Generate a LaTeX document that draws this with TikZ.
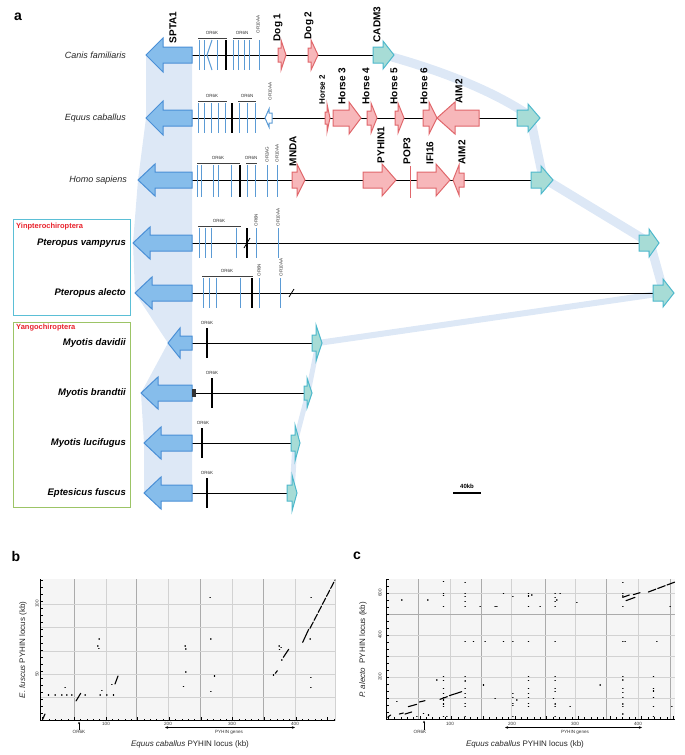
\documentclass[tikz,border=0pt]{standalone}
\usepackage{fontspec}
\setmainfont{Liberation Sans}
\usetikzlibrary{arrows.meta,calc}
\definecolor{sptaF}{HTML}{86BDEB}
\definecolor{sptaD}{HTML}{4A8FD6}
\definecolor{orB}{HTML}{5B9BD5}
\definecolor{shadeC}{HTML}{DDE8F6}
\definecolor{redF}{HTML}{F7B7BA}
\definecolor{redD}{HTML}{E0676B}
\definecolor{cadF}{HTML}{A7DCD6}
\definecolor{cadD}{HTML}{4DB8CC}
\definecolor{boxC}{HTML}{5BBFD6}
\definecolor{boxG}{HTML}{9CC466}
\definecolor{labR}{HTML}{E8212B}
\definecolor{gridL}{HTML}{D2D2D2}
\definecolor{gridD}{HTML}{ABABAB}
\definecolor{plotbg}{HTML}{F5F5F5}
\newcommand{\geneR}[8]{%
 \draw[#1] (#2,{#4-#5}) -- ({#3-#7},{#4-#5}) -- ({#3-#7},{#4-#6}) -- (#3,#4) -- ({#3-#7},{#4+#6}) -- ({#3-#7},{#4+#5}) -- (#2,{#4+#5}) -- cycle;
 \coordinate (#8) at (#3,#4);}
\newcommand{\geneL}[8]{%
 \draw[#1] (#3,{#4-#5}) -- ({#2+#7},{#4-#5}) -- ({#2+#7},{#4-#6}) -- (#2,#4) -- ({#2+#7},{#4+#6}) -- ({#2+#7},{#4+#5}) -- (#3,{#4+#5}) -- cycle;
 \coordinate (#8) at (#2,#4);}
\begin{document}
\begin{tikzpicture}[x=1pt,y=-1pt,
 spta/.style={fill=sptaF,draw=sptaD,line width=1pt},
 redg/.style={fill=redF,draw=redD,line width=1pt},
 cadg/.style={fill=cadF,draw=cadD,line width=1pt},
 ortk/.style={draw=orB,line width=1pt},
 blk/.style={draw=black,line width=1.3pt},
 chrom/.style={draw=black,line width=0.8pt},
 brk/.style={draw=black!75,line width=0.5pt},
 orlab/.style={font=\fontsize{4.5}{5}\selectfont,inner sep=0.5pt,text=black!80},
 orlabr/.style={orlab,rotate=90,anchor=west},
 genelab/.style={font=\bfseries\fontsize{10}{11}\selectfont,rotate=90,anchor=west,inner sep=0.5pt},
 splab/.style={font=\itshape\fontsize{9}{10}\selectfont,anchor=east,text=black!85,inner sep=0pt},
 batlab/.style={font=\bfseries\itshape\fontsize{9.5}{10}\selectfont,anchor=east,inner sep=0pt},
 grplab/.style={font=\bfseries\fontsize{7.5}{8}\selectfont,text=labR,anchor=west,inner sep=0pt},
 band/.style={draw=shadeC,line cap=round,line join=round},
 panel/.style={font=\bfseries\fontsize{14}{16}\selectfont,inner sep=0pt},
 dotp/.style={line width=1.3pt,line cap=round},
 segp/.style={line width=1.1pt,line cap=round},
 small/.style={font=\fontsize{4.6}{5.5}\selectfont,inner sep=0.3pt,text=black!80},
 axt/.style={font=\fontsize{8}{9}\selectfont,inner sep=0pt,text=black!85},
 gl/.style={draw=gridL,line width=0.5pt},
 gd/.style={draw=gridD,line width=0.6pt}
]
\useasboundingbox (0,0) rectangle (685,755);

% ---------- coordinates of CADM3 tips (for bands) ----------
\coordinate (bCf) at (392,57);
\coordinate (bEc) at (530,116);
\coordinate (bHs) at (543,178);
\coordinate (bPv) at (650,243);
\coordinate (bPa) at (664,293);
\coordinate (bMd) at (318,343);
\coordinate (bMb) at (308,393);
\coordinate (bMl) at (295,443);
\coordinate (bEf) at (292,493);

% bands
\draw[band,line width=9pt] (bCf) .. controls (445,72) and (495,92) .. (bEc) -- (bHs) -- (bPv) -- (bPa);
\draw[band,line width=6pt] (bPa) -- (bMd);
\draw[band,line width=5pt] (bMd) -- (bMb) -- (bMl) -- (bEf);

% SPTA1 shading
\fill[shadeC] (146,55) -- (146,118) -- (138,180) -- (133,243) -- (135,293) -- (168,343) -- (141,393) -- (144,443) -- (144,493) -- (192,493) -- (192,55) -- cycle;

% ---------- panel a ----------
\node[panel] (pa) at (18,17) {a};

% group boxes
\draw[boxC,line width=1pt] (13,219) rectangle (130,315);
\draw[boxG,line width=1pt] (13,322) rectangle (130,507);
\node[grplab] (gYin) at (16,227) {Yinpterochiroptera};
\node[grplab] (gYan) at (16,328) {Yangochiroptera};

% species labels
\node[splab] (sCf) at (126,55) {Canis familiaris};
\node[splab] (sEc) at (126,118) {Equus caballus};
\node[splab] (sHs) at (127,180) {Homo sapiens};
\node[batlab] (sPv) at (126,243) {Pteropus vampyrus};
\node[batlab] (sPa) at (126,293) {Pteropus alecto};
\node[batlab] (sMd) at (126,343) {Myotis davidii};
\node[batlab] (sMb) at (126,393) {Myotis brandtii};
\node[batlab] (sMl) at (126,443) {Myotis lucifugus};
\node[batlab] (sEf) at (126,493) {Eptesicus fuscus};

% chromosome lines
\draw[chrom] (192,55) -- (373,55);
\draw[chrom] (192,118) -- (517,118);
\draw[chrom] (192,180) -- (531,180);
\draw[chrom] (192,243) -- (639,243);
\draw[chrom] (192,293) -- (653,293);
\draw[chrom] (192,343) -- (312,343);
\draw[chrom] (192,393) -- (304,393);
\draw[chrom] (192,443) -- (291,443);
\draw[chrom] (192,493) -- (287,493);

% SPTA1 arrows
\geneL{spta}{146}{192}{55}{8}{17}{17}{sptaCf}
\geneL{spta}{146}{192}{118}{8}{17}{17}{sptaEc}
\geneL{spta}{138}{192}{180}{8}{16}{17}{sptaHs}
\geneL{spta}{133}{192}{243}{8}{16}{17}{sptaPv}
\geneL{spta}{135}{192}{293}{8}{16}{17}{sptaPa}
\geneL{spta}{168}{192}{343}{7}{15}{12}{sptaMd}
\geneL{spta}{141}{192}{393}{8}{16}{17}{sptaMb}
\geneL{spta}{144}{192}{443}{8}{16}{17}{sptaMl}
\geneL{spta}{144}{192}{493}{8}{16}{17}{sptaEf}
\node[genelab] (lSPTA) at (173,44) {SPTA1};

% CADM3 arrows
\geneR{cadg}{373}{394}{55}{8}{14}{11}{cadCf}
\geneR{cadg}{517}{540}{118}{8}{14}{12}{cadEc}
\geneR{cadg}{531}{553}{180}{8}{14}{12}{cadHs}
\geneR{cadg}{639}{659}{243}{8}{14}{10}{cadPv}
\geneR{cadg}{653}{674}{293}{8}{14}{11}{cadPa}
\geneR{cadg}{312}{322}{343}{8}{18}{6}{cadMd}
\geneR{cadg}{304}{312}{393}{7}{15}{5}{cadMb}
\geneR{cadg}{291}{300}{443}{8}{18}{5}{cadMl}
\geneR{cadg}{287}{297}{493}{8}{18}{5}{cadEf}
\node[genelab] (lCADM) at (377,43) {CADM3};

% ---- Canis row ----
\foreach \x in {199,204,217,233,238,244,249,259} \draw[ortk] (\x,40) -- (\x,70);
\draw[ortk] (212,40) -- (207,55) -- (212,70);
\draw[blk] (226,40) -- (226,70);
\draw[brk] (198,38) -- (227,38);
\draw[brk] (233,38) -- (252,38);
\node[orlab] (oCf1) at (212,33) {OR6K};
\node[orlab] (oCf2) at (242,33) {OR6N};
\node[orlabr] (oCf3) at (258,34) {OR10AA};
\geneR{redg}{278}{286}{55}{7}{15}{5}{dog1}
\geneR{redg}{308}{318}{55}{7}{15}{7}{dog2}
\node[genelab] (lDog1) at (278,42) {Dog 1};
\node[genelab] (lDog2) at (309,40) {Dog 2};

% ---- Equus row ----
\foreach \x in {198,204,211,218,225,239,247,255} \draw[ortk] (\x,103) -- (\x,133);
\draw[blk] (232,103) -- (232,133);
\geneL{fill=white,draw=orB,line width=1pt}{265}{272}{118}{5}{9}{4}{or10Ec}
\draw[brk] (198,101) -- (227,101);
\draw[brk] (238,101) -- (256,101);
\node[orlab] (oEc1) at (212,96) {OR6K};
\node[orlab] (oEc2) at (247,96) {OR6N};
\node[orlabr] (oEc3) at (270,101) {OR10AA};
\geneR{redg}{325}{330}{118}{6}{14}{3}{horse2}
\geneR{redg}{333}{361}{118}{8}{16}{12}{horse3}
\geneR{redg}{367}{377}{118}{7}{15}{6}{horse4}
\geneR{redg}{395}{404}{118}{7}{15}{6}{horse5}
\geneR{redg}{423}{437}{118}{8}{16}{8}{horse6}
\geneL{redg}{437}{479}{118}{8}{16}{18}{aim2Ec}
\node[genelab,font=\bfseries\fontsize{8}{9}\selectfont] (lH2) at (322,105) {Horse 2};
\node[genelab] (lH3) at (342,105) {Horse 3};
\node[genelab] (lH4) at (366,105) {Horse 4};
\node[genelab] (lH5) at (394,105) {Horse 5};
\node[genelab] (lH6) at (424,105) {Horse 6};
\node[genelab] (lAIM2a) at (459,104) {AIM2};

% ---- Homo row ----
\foreach \x in {197,201,213,218,231,247,255,267,277} \draw[ortk] (\x,165) -- (\x,197);
\draw[blk] (240,165) -- (240,197);
\draw[brk] (197,163) -- (240,163);
\draw[brk] (246,163) -- (257,163);
\node[orlab] (oHs1) at (218,158) {OR6K};
\node[orlab] (oHs2) at (251,158) {OR6N};
\node[orlabr] (oHs3) at (267,163) {OR2AG};
\node[orlabr] (oHs4) at (277,163) {OR10AA};
\geneR{redg}{292}{305}{180}{8}{16}{8}{mnda}
\geneR{redg}{363}{396}{180}{8}{16}{14}{pyhin1}
\draw[redD,line width=1pt] (410,166) -- (410,198);
\coordinate (pop3) at (410,180);
\geneR{redg}{417}{450}{180}{8}{16}{14}{ifi16}
\geneL{redg}{453}{464}{180}{7}{15}{6}{aim2Hs}
\node[genelab] (lMNDA) at (293,167) {MNDA};
\node[genelab] (lPYHIN) at (381,164) {PYHIN1};
\node[genelab] (lPOP3) at (407,165) {POP3};
\node[genelab] (lIFI) at (430,165) {IFI16};
\node[genelab] (lAIM2b) at (462,165) {AIM2};

% ---- Pteropus vampyrus row ----
\foreach \x in {199,205,211,236,256,278} \draw[ortk] (\x,228) -- (\x,258);
\draw[blk] (247,228) -- (247,258);
\draw[black,line width=0.8pt] (244,248) -- (250,238);
\draw[brk] (198,226) -- (241,226);
\node[orlab] (oPv1) at (219,221) {OR6K};
\node[orlabr] (oPv2) at (256,227) {OR6N};
\node[orlabr] (oPv3) at (278,227) {OR10AA};

% ---- Pteropus alecto row ----
\foreach \x in {203,209,216,240,259,280} \draw[ortk] (\x,278) -- (\x,308);
\draw[blk] (252,278) -- (252,308);
\draw[black,line width=0.8pt] (289,297) -- (294,289);
\draw[brk] (202,276) -- (253,276);
\node[orlab] (oPa1) at (227,271) {OR6K};
\node[orlabr] (oPa2) at (259,277) {OR6N};
\node[orlabr] (oPa3) at (281,277) {OR10AA};

% ---- Myotis / Eptesicus rows ----
\draw[blk] (207,328) -- (207,358);
\node[orlab] (oMd) at (207,323) {OR6K};
\fill[black!80] (192,389) rectangle (195.5,397);
\draw[blk] (212,378) -- (212,408);
\node[orlab] (oMb) at (212,373) {OR6K};
\draw[blk] (202,428) -- (202,458);
\node[orlab] (oMl) at (203,423) {OR6K};
\draw[blk] (207,478) -- (207,508);
\node[orlab] (oEf) at (207,473) {OR6K};

% scale bar
\draw[line width=1.2pt] (453,493) -- (481,493);
\node[font=\bfseries\fontsize{6}{7}\selectfont,inner sep=0pt] (sbar) at (467,486.5) {40kb};

% ---------- panel b ----------
\node[panel] (pb) at (16,556) {b};
\begin{scope}[shift={(0,560)},scale=1/3]
 \fill[plotbg] (122,58) rectangle (1005,482);
 \foreach \x in {222,410,600,790} \draw[gd] (\x,58) -- (\x,482);
 \foreach \x in {318,505,697,885,1005} \draw[gl] (\x,58) -- (\x,482);
 \foreach \y in {133,203,273,343,413} \draw[gl] (122,\y) -- (1005,\y);
 \draw[line width=0.6pt] (122,58) -- (122,482) -- (1005,482);
 \foreach \i in {0,...,46} \draw[line width=0.4pt] ({128+19*\i},482) -- ({128+19*\i},476);
 \foreach \i in {0,...,9} \draw[line width=0.5pt] ({128+95*\i},482) -- ({128+95*\i},472);
 \foreach \i in {0,...,20} \draw[line width=0.4pt] (122,{482-21*\i}) -- (128,{482-21*\i});
 % dots
 \foreach \x/\y in {145/405,165/405,185/405,200/405,215/405,255/405,300/405,320/405,340/405,195/382,
   293/258,296/265,297/237,305/392,335/373,555/258,557/267,557/336,550/380,630/112,632/237,632/395,
   643/348,820/345,837/258,843/262,838/268,845/300,933/112,930/237,932/352,932/382}
   \draw[dotp] (\x,\y) -- ++(1,0);
 \draw[segp] (128,478) -- (135,462);
 \draw[segp] (228,423) -- (242,400);
 \draw[segp] (345,372) -- (354,348);
 \draw[segp] (826,340) -- (832,332);
 \draw[segp] (850,292) -- (866,268);
 \draw[segp] (908,247) -- (926,208);
 \draw[segp,dash pattern=on 7pt off 2pt] (930,205) -- (1005,60);
\end{scope}
\node[small,rotate=90] (by100) at (37,604) {100};
\node[small,rotate=90] (by50) at (37,674) {50};
\node[small] (bx100) at (106,723.5) {100};
\node[small] (bx200) at (168,723.5) {200};
\node[small] (bx300) at (232,723.5) {300};
\node[small] (bx400) at (295,723.5) {400};
\node[small] (bor) at (79,732) {OR6K};
\coordinate (borT) at (79,721.5);
\draw[-{Stealth[length=2.5pt,width=2pt]},line width=0.4pt] (bor.north) -- (borT);
\coordinate (bpA) at (165,727.5);
\coordinate (bpB) at (295,727.5);
\draw[{Stealth[length=3pt,width=2.5pt]}-{Stealth[length=3pt,width=2.5pt]},line width=0.6pt] (bpA) -- (bpB);
\node[small] (bpl) at (229,732.5) {PYHIN genes};
\node[axt] (bxt) at (190,744) {\textit{Equus caballus} PYHIN locus (kb)};
\node[axt,rotate=90] (byt) at (23,650) {\textit{E. fuscus} PYHIN locus (kb)};

% ---------- panel c ----------
\node[panel] (pc) at (357,556) {c};
\begin{scope}[shift={(340,560)},scale=1/3]
 \fill[plotbg] (140,58) rectangle (1005,478);
 \foreach \x in {235,425,615,800,990} \draw[gd] (\x,58) -- (\x,478);
 \foreach \x in {330,515,705,895} \draw[gl] (\x,58) -- (\x,478);
 \foreach \y in {100,225,290,352,415} \draw[gl] (140,\y) -- (1005,\y);
 \draw[gd,line width=1pt] (140,163) -- (1005,163);
 \draw[line width=0.6pt] (140,58) -- (140,478) -- (1005,478);
 \foreach \i in {0,...,45} \draw[line width=0.4pt] ({145+19*\i},478) -- ({145+19*\i},472);
 \foreach \i in {0,...,9} \draw[line width=0.5pt] ({145+95*\i},478) -- ({145+95*\i},468);
 \foreach \i in {0,...,20} \draw[line width=0.4pt] (140,{478-21*\i}) -- (146,{478-21*\i});
 % columns of dots
 \foreach \y in {65,100,106,140,350,362,385,400,412,420,432,440,470} \draw[dotp] (310,\y) -- ++(1,0);
 \foreach \y in {68,100,110,125,140,245,350,363,385,400,413,430,440,470} \draw[dotp] (375,\y) -- ++(1,0);
 \foreach \y in {110,245,400,413,430,437,470} \draw[dotp] (518,\y) -- ++(1,0);
 \foreach \y in {100,108,140,245,350,362,385,400,413,430,440} \draw[dotp] (565,\y) -- ++(1,0);
 \foreach \y in {100,112,125,140,245,350,362,385,395,432,440,470} \draw[dotp] (645,\y) -- ++(1,0);
 \foreach \y in {68,100,108,140,245,350,360,385,398,413,432,440,462} \draw[dotp] (848,\y) -- ++(1,0);
 \foreach \y in {350,385,393,413,440,470} \draw[dotp] (940,\y) -- ++(1,0);
 \foreach \x/\y in {185/120,263/120,420/140,465/140,490/100,600/140,710/128,400/245,435/245,490/245,
   430/375,465/415,640/415,690/440,780/375,995/440,990/140,575/105,650/120,855/245,290/360,
   250/460,265/465,170/425,470/140,230/470,320/470,530/420,660/100,950/245}
   \draw[dotp] (\x,\y) -- ++(1,0);
 % diagonal runs
 \draw[segp] (143,472) -- (152,465);
 \draw[segp] (178,462) -- (190,459);
 \draw[segp] (195,462) -- (215,456);
 \draw[segp] (205,440) -- (230,433);
 \draw[segp] (238,426) -- (255,422);
 \draw[segp] (300,418) -- (322,410);
 \draw[segp] (328,407) -- (365,395);
 \draw[segp] (848,112) -- (868,105);
 \draw[segp] (858,122) -- (885,112);
 \draw[segp] (880,104) -- (900,98);
 \draw[segp,dash pattern=on 8pt off 2pt] (925,96) -- (1005,66);
\end{scope}
\node[small,rotate=90] (cy600) at (380,593) {600};
\node[small,rotate=90] (cy400) at (380,635) {400};
\node[small,rotate=90] (cy200) at (380,677) {200};
\node[small] (cx100) at (450,723.5) {100};
\node[small] (cx200) at (512,723.5) {200};
\node[small] (cx300) at (575,723.5) {300};
\node[small] (cx400) at (638,723.5) {400};
\node[small] (cor) at (420,732) {OR6K};
\coordinate (corT) at (424,720.5);
\draw[-{Stealth[length=2.5pt,width=2pt]},line width=0.4pt] ($(cor.north)+(4,0)$) -- (corT);
\coordinate (cpA) at (505,727.5);
\coordinate (cpB) at (642,727.5);
\draw[{Stealth[length=3pt,width=2.5pt]}-{Stealth[length=3pt,width=2.5pt]},line width=0.6pt] (cpA) -- (cpB);
\node[small] (cpl) at (575,732.5) {PYHIN genes};
\node[axt] (cxt) at (525,744) {\textit{Equus caballus} PYHIN locus (kb)};
\node[axt,rotate=90] (cyt) at (363,650) {\textit{P. alecto}\ \ PYHIN locus (kb)};
\end{tikzpicture}
\end{document}
